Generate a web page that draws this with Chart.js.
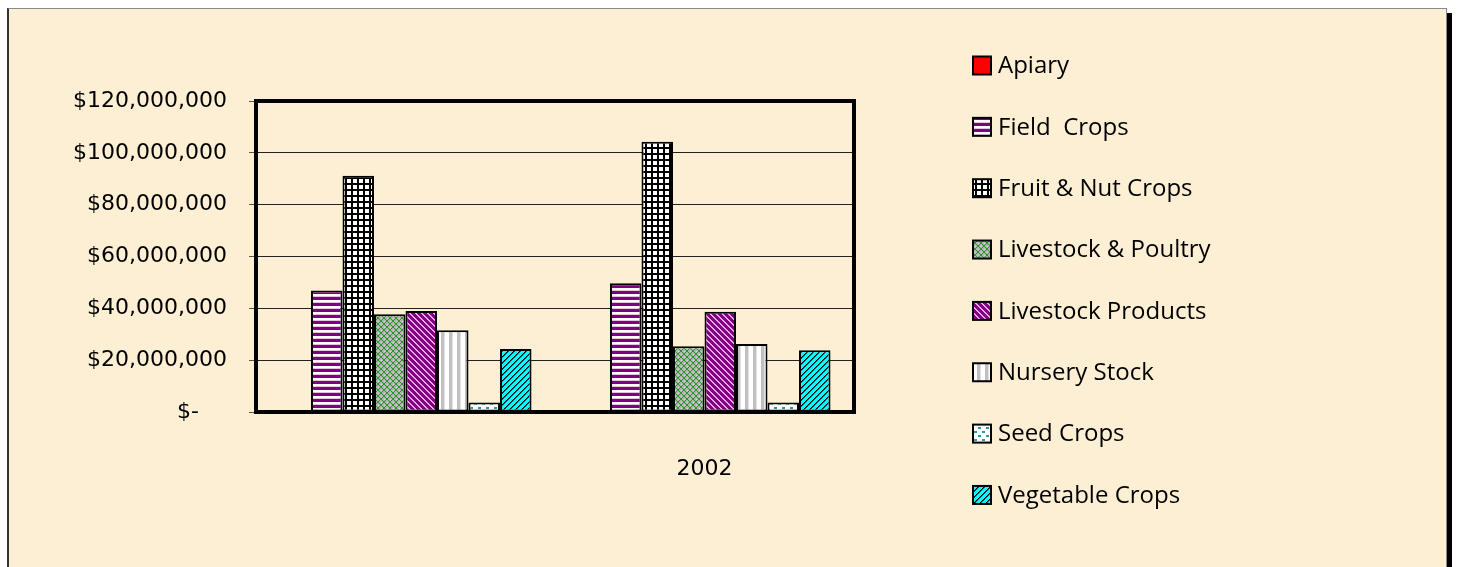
<!DOCTYPE html>
<html>
<head>
<meta charset="utf-8">
<title>Agricultural Production Value</title>
<script src="https://cdn.jsdelivr.net/npm/chart.js@4.4.0/dist/chart.umd.min.js"></script>
<style>
    html, body { margin: 0; padding: 0; background: #fff; }
    #frame {
        position: absolute;
        left: 7px;
        top: 8px;
        width: 1437px;
        height: 600px;
        background: #fcefd3;
        border: 1px solid #8a8a8a;
        border-left: 2px solid #333;
        box-shadow: 5px 5px 0 #000;
    }
    canvas { display: block; }
</style>
</head>
<body>
<div id="frame"><canvas id="valueChart" width="1437" height="558"></canvas></div>
<script>
// Categories (first group carries no label in the original)
const categories = ['', '2002'];

// Series values, dollars
const apiary = [0, 0];
const fieldCrops = [46900000, 49700000];
const fruitNutCrops = [91200000, 104300000];
const livestockPoultry = [37700000, 25400000];
const livestockProducts = [39000000, 38700000];
const nurseryStock = [31500000, 26200000];
const seedCrops = [3700000, 3700000];
const vegetableCrops = [24300000, 23800000];

// Value axis
const yMin = 0;
const yMax = 120000000;
const yStep = 20000000;

const FONT_AXIS = '"DejaVu Sans", Verdana, sans-serif';
const FONT_LEGEND = '"Comic Sans MS", "Open Sans", sans-serif';

// Build a repeating fill pattern from a small tile
function makePattern(w, h, draw) {
    const tile = document.createElement('canvas');
    tile.width = w;
    tile.height = h;
    const g = tile.getContext('2d');
    draw(g, w, h);
    return g.createPattern(tile, 'repeat');
}

function px(g, x, y, color) {
    g.fillStyle = color;
    g.fillRect(x, y, 1, 1);
}

const fills = {
    apiary: '#ff0000',
    field: makePattern(6, 6, (g, w, h) => {
        g.fillStyle = '#ffffff'; g.fillRect(0, 0, w, h);
        g.fillStyle = '#800080'; g.fillRect(0, 0, w, 3);
        g.fillStyle = '#e2c4e2'; g.fillRect(0, 5, w, 1);
    }),
    fruit: makePattern(6, 6, (g, w, h) => {
        g.fillStyle = '#ffffff'; g.fillRect(0, 0, w, h);
        g.fillStyle = '#000000';
        g.fillRect(0, 0, w, 2);
        g.fillRect(0, 0, 2, h);
    }),
    poultry: makePattern(6, 6, (g, w, h) => {
        g.fillStyle = '#b4b4b4'; g.fillRect(0, 0, w, h);
        for (let i = 0; i < w; i++) {
            px(g, i, i, '#2a962a');
            px(g, i, w - 1 - i, '#2a962a');
        }
        px(g, 3, 0, '#dcdcdc');
        px(g, 0, 3, '#dcdcdc');
    }),
    products: makePattern(6, 6, (g, w, h) => {
        for (let y = 0; y < h; y++) {
            for (let x = 0; x < w; x++) {
                const k = ((x - y) % w + w) % w;
                px(g, x, y, k < 2 ? '#e6a8e6' : '#800080');
            }
        }
    }),
    nursery: makePattern(8, 8, (g, w, h) => {
        g.fillStyle = '#ffffff'; g.fillRect(0, 0, w, h);
        g.fillStyle = '#c0c0c0'; g.fillRect(0, 0, 3, h);
        g.fillStyle = '#e2e2e2'; g.fillRect(3, 0, 1, h);
    }),
    seed: makePattern(8, 8, (g, w, h) => {
        g.fillStyle = '#ffffff'; g.fillRect(0, 0, w, h);
        g.fillStyle = '#2a9a9a';
        g.fillRect(1, 2, 3, 2);
        g.fillRect(5, 6, 3, 2);
    }),
    vegetable: makePattern(6, 6, (g, w, h) => {
        for (let y = 0; y < h; y++) {
            for (let x = 0; x < w; x++) {
                const k = (x + y) % w;
                px(g, x, y, k === 0 ? '#000000' : (k === 1 ? '#006a6a' : '#00ffff'));
            }
        }
    })
};

function series(label, data, fill) {
    return {
        label: label,
        data: data,
        backgroundColor: fill,
        borderColor: '#000000',
        borderWidth: 2,
        borderSkipped: false,
        categoryPercentage: 0.843,
        barPercentage: 1.0
    };
}

// Thick frame round the plot area
const plotFrame = {
    id: 'plotFrame',
    afterDatasetsDraw(chart) {
        const a = chart.chartArea;
        const ctx = chart.ctx;
        ctx.save();
        ctx.strokeStyle = '#000';
        ctx.lineWidth = 4;
        ctx.strokeRect(a.left, a.top, a.right - a.left, a.bottom - a.top);
        ctx.restore();
    }
};

// Legend column to the right, drawn from the datasets
const sideLegend = {
    id: 'sideLegend',
    afterDraw(chart) {
        const ctx = chart.ctx;
        ctx.save();
        ctx.font = '24px ' + FONT_LEGEND;
        ctx.textBaseline = 'middle';
        ctx.textAlign = 'left';
        chart.data.datasets.forEach((ds, i) => {
            const y = 56.5 + i * 61.35;
            ctx.fillStyle = ds.backgroundColor;
            ctx.fillRect(964, y - 9, 18, 18);
            ctx.lineWidth = 2;
            ctx.strokeStyle = '#000';
            ctx.strokeRect(964, y - 9, 18, 18);
            ctx.fillStyle = '#000';
            ctx.fillText(ds.label, 989, y + 1);
        });
        ctx.restore();
    }
};

const ctx = document.getElementById('valueChart');

new Chart(ctx, {
    type: 'bar',
    data: {
        labels: categories,
        datasets: [
            series('Apiary', apiary, fills.apiary),
            series('Field  Crops', fieldCrops, fills.field),
            series('Fruit & Nut Crops', fruitNutCrops, fills.fruit),
            series('Livestock & Poultry', livestockPoultry, fills.poultry),
            series('Livestock Products', livestockProducts, fills.products),
            series('Nursery Stock', nurseryStock, fills.nursery),
            series('Seed Crops', seedCrops, fills.seed),
            series('Vegetable Crops', vegetableCrops, fills.vegetable)
        ]
    },
    options: {
        responsive: false,
        animation: false,
        layout: {
            padding: { left: 47, top: 92, right: 592, bottom: 75 }
        },
        plugins: {
            legend: { display: false },
            tooltip: { enabled: false }
        },
        scales: {
            x: {
                grid: { display: false, drawTicks: false },
                border: { display: false },
                ticks: {
                    color: '#000',
                    padding: 44,
                    font: { family: FONT_AXIS, size: 22 }
                },
                afterFit: function(scale) { scale.height = 80; }
            },
            y: {
                min: yMin,
                max: yMax,
                grid: {
                    color: '#222',
                    lineWidth: 1,
                    tickLength: 7,
                    tickColor: '#555'
                },
                border: { display: false },
                ticks: {
                    stepSize: yStep,
                    color: '#000',
                    padding: 22,
                    font: { family: FONT_AXIS, size: 22 },
                    callback: function(value) {
                        if (value === 0) return '$-    ';
                        return '$' + value.toLocaleString('en-US');
                    }
                },
                afterFit: function(scale) { scale.width = 200; }
            }
        }
    },
    plugins: [plotFrame, sideLegend]
});
</script>
</body>
</html>
